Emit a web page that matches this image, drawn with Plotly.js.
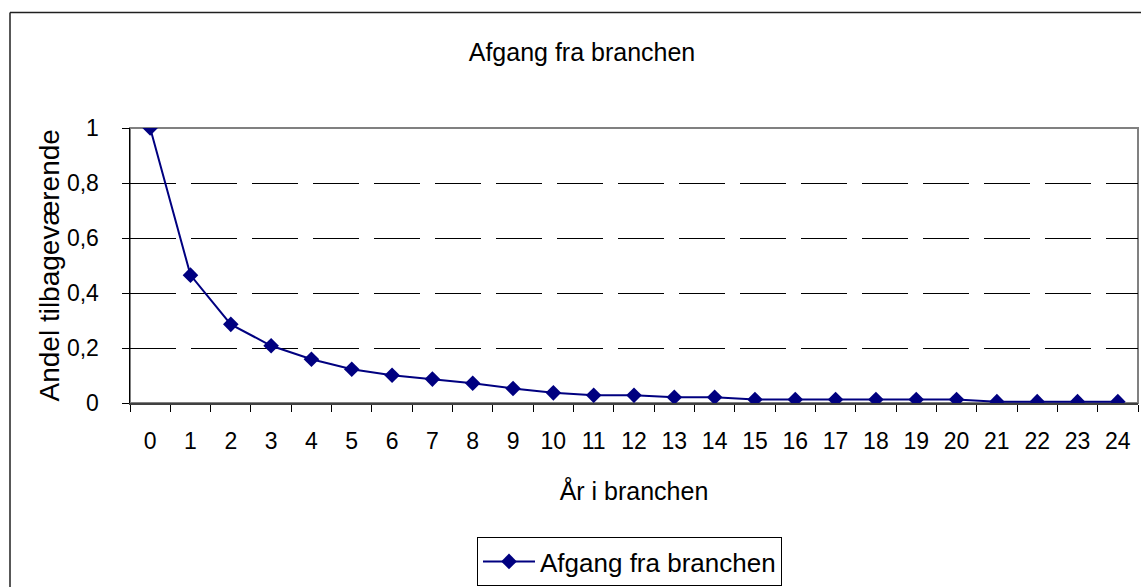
<!DOCTYPE html>
<html>
<head>
<meta charset="utf-8">
<script src="https://cdn.plot.ly/plotly-3.0.1.min.js"></script>
<style>html,body{margin:0;padding:0;background:#fff;}#chart{width:1141px;height:587px;}</style>
</head>
<body>
<div id="chart"></div>
<script>
const years = ["0","1","2","3","4","5","6","7","8","9","10","11","12","13","14","15","16","17","18","19","20","21","22","23","24"];
const share = [1.0,0.465,0.286,0.208,0.159,0.123,0.101,0.087,0.072,0.053,0.037,0.028,0.028,0.021,0.021,0.013,0.013,0.013,0.013,0.013,0.013,0.005,0.005,0.005,0.005];
const yTicks = [0,0.2,0.4,0.6,0.8,1];
const seriesName = "Afgang fra branchen";
const chartTitle = "Afgang fra branchen";
const xTitle = "År i branchen";
const yTitle = "Andel tilbageværende";

const font = "Liberation Sans, Arial, sans-serif";
const W = 1141, H = 587, L = 130, R = 3, T = 128, B = 183;
const pw = W - L - R, ph = H - T - B;
const px = v => (v - L) / pw;
const py = v => (H - B - v) / ph;

const trace = {
  x: years, y: share, type: "scatter", mode: "lines+markers", name: seriesName,
  line: {color: "#000080", width: 2},
  marker: {symbol: "diamond", size: 12, color: "#000080"}
};

const layout = {
  width: W, height: H,
  margin: {l: L, r: R, t: T, b: B, pad: 0},
  paper_bgcolor: "#fff", plot_bgcolor: "#fff",
  separators: ", ",
  font: {family: font, color: "#000"},
  title: {text: chartTitle, font: {size: 25, family: font, color: "#000"}, x: 582 / W, xanchor: "center", y: 1 - 52 / H, yanchor: "middle", xref: "container", yref: "container"},
  xaxis: {
    type: "category", range: [-0.5, 24.5], tickson: "boundaries",
    ticks: "outside", ticklen: 7, tickwidth: 1, tickcolor: "#000",
    showline: true, linecolor: "#404040", linewidth: 2,
    showgrid: false, zeroline: false,
    tickfont: {size: 23, family: font, color: "#000"},
    ticklabelstandoff: 16,
    title: {text: xTitle, font: {size: 25, family: font, color: "#000"}, standoff: 30}
  },
  yaxis: {
    range: [0, 1], tickvals: yTicks,
    ticks: "outside", ticklen: 7, tickwidth: 1, tickcolor: "#000",
    showline: true, linecolor: "#000", linewidth: 1.5,
    showgrid: true, gridcolor: "#000", gridwidth: 1, griddash: "46px,15px",
    zeroline: false,
    tickfont: {size: 23, family: font, color: "#000"},
    ticklabelstandoff: 18
  },
  annotations: [
    {text: yTitle, xref: "paper", yref: "paper", x: px(49), y: py(266), xanchor: "center", yanchor: "middle", textangle: -90, showarrow: false, font: {size: 28, family: font, color: "#000"}}
  ],
  showlegend: true,
  legend: {
    x: px(477), y: py(537), xanchor: "left", yanchor: "top",
    bordercolor: "#000", borderwidth: 1, bgcolor: "#fff",
    itemwidth: 52,
    font: {size: 26, family: font, color: "#000"}
  },
  shapes: [
    {type: "rect", xref: "paper", yref: "paper", x0: 0, x1: 1, y0: 0, y1: 1, line: {color: "#808080", width: 2}, layer: "below"},
    {type: "line", xref: "paper", yref: "paper", x0: px(10), x1: px(1145), y0: py(12), y1: py(12), line: {color: "#202020", width: 1.5}},
    {type: "line", xref: "paper", yref: "paper", x0: px(10), x1: px(10), y0: py(12), y1: py(600), line: {color: "#202020", width: 1.5}}
  ]
};

Plotly.newPlot("chart", [trace], layout, {displayModeBar: false, staticPlot: true});
</script>
</body>
</html>
